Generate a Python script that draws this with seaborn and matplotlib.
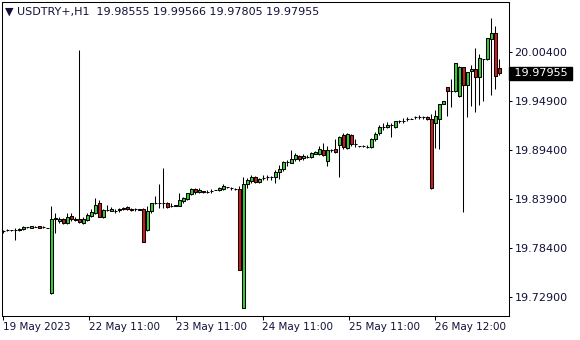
import matplotlib
matplotlib.use("Agg")
import matplotlib.pyplot as plt
import matplotlib.transforms as mtransforms
import numpy as np
import pandas as pd
import seaborn as sns

symbol = "USDTRY+,H1"

opens = [
    19.8028, 19.8034, 19.8035, 19.8039, 19.8039, 19.8046, 19.8067, 19.8064, 19.8076, 19.8080,
    19.8069, 19.8063, 19.7328, 19.8159, 19.8143, 19.8159, 19.8120, 19.8196, 19.8159, 19.8159,
    19.8120, 19.8151, 19.8196, 19.8226, 19.8345, 19.8181, 19.8263, 19.8257, 19.8257, 19.8266,
    19.8271, 19.8300, 19.8274, 19.8271, 19.8269, 19.8271, 19.8039, 19.8255, 19.8345, 19.8345,
    19.8345, 19.8345, 19.8311, 19.8316, 19.8311, 19.8364, 19.8383, 19.8443, 19.8499, 19.8462,
    19.8471, 19.8468, 19.8476, 19.8487, 19.8487, 19.8502, 19.8518, 19.8510, 19.8502, 19.8495,
    19.7160, 19.8551, 19.8589, 19.8630, 19.8574, 19.8619, 19.8633, 19.8630, 19.8630, 19.8689,
    19.8720, 19.8805, 19.8794, 19.8832, 19.8869, 19.8847, 19.8861, 19.8854, 19.8891, 19.8891,
    19.8936, 19.8816, 19.8936, 19.8944, 19.8993, 19.9105, 19.8962, 19.9105, 19.9000, 19.8981,
    19.8981, 19.8974, 19.8974, 19.9056, 19.9124, 19.9191, 19.9191, 19.9220, 19.9191, 19.9259,
    19.9262, 19.9281, 19.9288, 19.9303, 19.9307, 19.9303, 19.9310, 19.9284, 19.9236, 19.9281,
    19.9453, 19.9640, 19.9599, 19.9599, 19.9543, 19.9871, 19.9663, 19.9823, 19.9849, 19.9759,
    19.9961, 19.9958, 20.0186, 20.0246, 19.98555,
]

highs = [
    19.8035, 19.8046, 19.8041, 19.8058, 19.8061, 19.8080, 19.8072, 19.8083, 19.8080, 19.8083,
    19.8080, 19.8064, 19.8308, 19.8226, 19.8181, 19.8173, 19.8233, 19.8226, 19.8188, 20.0059,
    19.8188, 19.8233, 19.8271, 19.8394, 19.8375, 19.8271, 19.8316, 19.8293, 19.8278, 19.8285,
    19.8300, 19.8308, 19.8282, 19.8289, 19.8271, 19.8282, 19.8308, 19.8345, 19.8420, 19.8555,
    19.8731, 19.8356, 19.8345, 19.8319, 19.8457, 19.8406, 19.8457, 19.8510, 19.8510, 19.8510,
    19.8476, 19.8487, 19.8502, 19.8491, 19.8525, 19.8555, 19.8521, 19.8525, 19.8506, 19.8532,
    19.8630, 19.8619, 19.8656, 19.8645, 19.8622, 19.8652, 19.8656, 19.8648, 19.8712, 19.8765,
    19.8816, 19.8824, 19.8936, 19.8906, 19.8884, 19.8888, 19.8880, 19.8917, 19.8922, 19.8981,
    19.9018, 19.8978, 19.8951, 19.9060, 19.9094, 19.9124, 19.9124, 19.9113, 19.9056, 19.8985,
    19.8996, 19.8989, 19.9068, 19.9135, 19.9220, 19.9236, 19.9251, 19.9243, 19.9265, 19.9273,
    19.9292, 19.9303, 19.9292, 19.9321, 19.9333, 19.9318, 19.9315, 19.9337, 19.9385, 19.9451,
    19.9490, 19.9641, 19.9733, 19.9911, 19.9879, 19.9872, 19.9810, 19.9890, 20.0078, 20.0014,
    19.9963, 20.0191, 20.0415, 20.0328, 19.99566,
]

lows = [
    19.8008, 19.8024, 19.8029, 19.7926, 19.8024, 19.8039, 19.8064, 19.8061, 19.8069, 19.8058,
    19.8058, 19.8058, 19.7326, 19.8008, 19.8114, 19.8103, 19.8103, 19.8140, 19.8143, 19.8114,
    19.8103, 19.8140, 19.8188, 19.8218, 19.8181, 19.8170, 19.8255, 19.8252, 19.8233, 19.8241,
    19.8263, 19.8263, 19.8252, 19.8252, 19.8263, 19.7905, 19.8033, 19.8226, 19.8327, 19.8289,
    19.8289, 19.8289, 19.8297, 19.8304, 19.8304, 19.8345, 19.8372, 19.8435, 19.8443, 19.8450,
    19.8457, 19.8450, 19.8450, 19.8484, 19.8480, 19.8487, 19.8513, 19.8487, 19.8491, 19.7588,
    19.7158, 19.8506, 19.8569, 19.8563, 19.8563, 19.8600, 19.8603, 19.8600, 19.8569, 19.8611,
    19.8704, 19.8757, 19.8787, 19.8816, 19.8816, 19.8824, 19.8843, 19.8847, 19.8888, 19.8877,
    19.8869, 19.8760, 19.8914, 19.8899, 19.8637, 19.8951, 19.8951, 19.8981, 19.8970, 19.8974,
    19.8974, 19.8962, 19.8962, 19.9041, 19.9108, 19.9161, 19.9180, 19.9079, 19.9180, 19.9236,
    19.9239, 19.9262, 19.9281, 19.9284, 19.9281, 19.9288, 19.9277, 19.8504, 19.8956, 19.8944,
    19.9450, 19.9321, 19.9423, 19.9591, 19.9535, 19.8244, 19.9303, 19.9430, 19.9360, 19.9442,
    19.9490, 19.9950, 19.9554, 19.9621, 19.97805,
]

closes = [
    19.8033, 19.8036, 19.8034, 19.8042, 19.8050, 19.8069, 19.8069, 19.8080, 19.8073, 19.8061,
    19.8067, 19.8061, 19.8159, 19.8177, 19.8165, 19.8114, 19.8188, 19.8159, 19.8156, 19.8132,
    19.8159, 19.8207, 19.8241, 19.8319, 19.8188, 19.8263, 19.8262, 19.8269, 19.8255, 19.8274,
    19.8289, 19.8274, 19.8266, 19.8270, 19.8266, 19.7907, 19.8252, 19.8338, 19.8344, 19.8344,
    19.8346, 19.8300, 19.8310, 19.8308, 19.8375, 19.8394, 19.8450, 19.8499, 19.8462, 19.8487,
    19.8468, 19.8469, 19.8477, 19.8486, 19.8506, 19.8532, 19.8517, 19.8509, 19.8495, 19.7590,
    19.8551, 19.8600, 19.8637, 19.8574, 19.8611, 19.8620, 19.8634, 19.8629, 19.8686, 19.8723,
    19.8798, 19.8806, 19.8835, 19.8880, 19.8832, 19.8872, 19.8862, 19.8906, 19.8911, 19.8944,
    19.8877, 19.8936, 19.8935, 19.8914, 19.9086, 19.8967, 19.9116, 19.9000, 19.8999, 19.8978,
    19.8980, 19.8973, 19.9056, 19.9116, 19.9191, 19.9190, 19.9220, 19.9219, 19.9259, 19.9258,
    19.9263, 19.9282, 19.9287, 19.9304, 19.9306, 19.9302, 19.9281, 19.8506, 19.9321, 19.9450,
    19.9486, 19.9595, 19.9600, 19.9910, 19.9871, 19.9663, 19.9809, 19.9849, 19.9759, 19.9966,
    19.9962, 20.0190, 20.0246, 19.9770, 19.97955,
]

x_tick_pos = [0, 21.5, 43.2, 64.8, 86.4, 108.0]
x_tick_labels = ["19 May 2023", "22 May 11:00", "23 May 11:00",
                 "24 May 11:00", "25 May 11:00", "26 May 12:00"]
y_ticks = [19.729, 19.784, 19.839, 19.894, 19.949, 20.004]

df = pd.DataFrame({"open": opens, "high": highs, "low": lows, "close": closes})
df["bar"] = np.arange(len(df))
df["up"] = df["close"] >= df["open"]
df["body_lo"] = df[["open", "close"]].min(axis=1)
df["body_h"] = (df["close"] - df["open"]).abs()

sns.set_theme(style="white")
plt.rcParams["font.family"] = ["DejaVu Sans"]
plt.rcParams["axes.edgecolor"] = "black"
plt.rcParams["axes.linewidth"] = 0.75

TXT = "#101038"
GREEN = "#32d232"
RED = "#d81818"

fig = plt.figure(figsize=(5.8, 3.4), dpi=100)
fig.patch.set_facecolor("white")
ax = fig.add_axes([2 / 580, 24 / 340, 507 / 580, 314 / 340])
ax.set_facecolor("white")

ax.vlines(df["bar"], df["low"], df["high"], color="black", linewidth=0.75, zorder=2)
ax.bar(df["bar"], df["body_h"], bottom=df["body_lo"], width=0.62,
       color=[GREEN if u else RED for u in df["up"]],
       edgecolor="black", linewidth=0.75, zorder=3)

ax.set_xlim(-0.325, 126.425)
ax.set_ylim(19.70735, 20.05978)

ax.yaxis.tick_right()
ax.set_yticks(y_ticks)
ax.set_yticklabels([f"{v:.5f}" for v in y_ticks])
ax.set_xticks(x_tick_pos)
ax.set_xticklabels(x_tick_labels, ha="left")
ax.tick_params(axis="y", which="both", right=True, left=False, direction="out",
               length=2.5, width=0.75, colors="black", labelcolor=TXT,
               labelsize=8, pad=1.5)
ax.tick_params(axis="x", which="both", bottom=True, direction="out",
               length=3, width=0.75, colors="black", labelcolor=TXT,
               labelsize=7.5, pad=1.5)
for s in ax.spines.values():
    s.set_visible(True)
    s.set_color("black")
ax.grid(False)

# current price marker
blend = mtransforms.blended_transform_factory(ax.transAxes, ax.transData)
ax.text(1.003, closes[-1], f" {closes[-1]:.5f} ", transform=blend, ha="left", va="center",
        color="white", fontsize=8, zorder=5,
        bbox=dict(facecolor="black", edgecolor="black", boxstyle="square,pad=0.12"),
        clip_on=False)

# header
title = f"\u25bc {symbol}  {opens[-1]:.5f} {highs[-1]:.5f} {lows[-1]:.5f} {closes[-1]:.5f}"
fig.text(5 / 580, 1 - 12 / 340, title, ha="left", va="center", fontsize=8, color=TXT)

fig.savefig("out.png", dpi=100, facecolor="white")
